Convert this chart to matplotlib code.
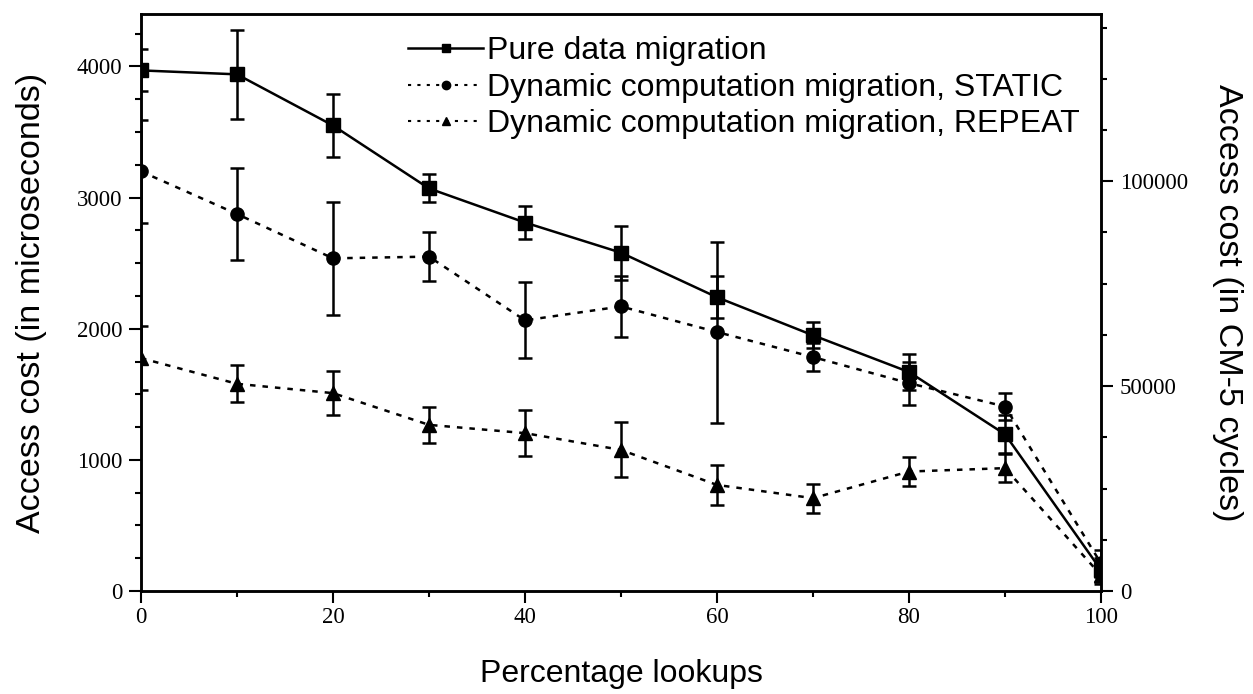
import matplotlib.pyplot as plt
from matplotlib.lines import Line2D
from matplotlib.ticker import MultipleLocator

# Data
lookups = [0, 10, 20, 30, 40, 50, 60, 70, 80, 90, 100]
pure = [3970, 3940, 3550, 3070, 2810, 2580, 2240, 1950, 1670, 1195, 160]
pure_err = [160, 340, 240, 107, 127, 205, 160, 100, 135, 145, 90]
static = [3200, 2875, 2537, 2550, 2064, 2170, 1975, 1784, 1585, 1407, 210]
static_err = [390, 350, 430, 185, 290, 230, 690, 110, 165, 105, 100]
repeat = [1776, 1580, 1509, 1267, 1204, 1076, 809, 708, 911, 937, 120]
repeat_err = [245, 140, 168, 140, 175, 210, 155, 110, 110, 105, 70]
labels = ['Pure data migration',
          'Dynamic computation migration, STATIC',
          'Dynamic computation migration, REPEAT']

cycles_per_us = 32

fig = plt.figure(figsize=(12.53, 6.94), dpi=100)
ax = fig.add_axes([0.1125, 0.1484, 0.7662, 0.8314])

sans = 'Liberation Sans'
serif = 'Liberation Serif'
dots = (0, (2.2, 2.8))

common = dict(color='black', lw=1.8, elinewidth=1.8, capsize=5, capthick=1.8)
ax.errorbar(lookups, pure, yerr=pure_err, marker='s', ms=9.5, ls='-', **common)
ax.errorbar(lookups, static, yerr=static_err, marker='o', ms=9.5, ls=dots, **common)
ax.errorbar(lookups, repeat, yerr=repeat_err, marker='^', ms=9.5, ls=dots, **common)

ax.set_xlim(0, 100)
ax.set_ylim(0, 4400)
ax.xaxis.set_major_locator(MultipleLocator(20))
ax.xaxis.set_minor_locator(MultipleLocator(10))
ax.yaxis.set_major_locator(MultipleLocator(1000))
ax.yaxis.set_minor_locator(MultipleLocator(250))

for s in ax.spines.values():
    s.set_linewidth(1.8)
ax.tick_params(which='major', direction='out', length=8.5, width=1.5)
ax.tick_params(which='minor', direction='out', length=4, width=1.5)
ax.tick_params(axis='x', pad=3)
ax.tick_params(axis='y', pad=5)
for lab in ax.get_xticklabels() + ax.get_yticklabels():
    lab.set_fontfamily(serif)
    lab.set_fontsize(16.5)

ax2 = ax.twinx()
ax2.set_ylim(0, 4400 * cycles_per_us)
ax2.yaxis.set_major_locator(MultipleLocator(50000))
ax2.yaxis.set_minor_locator(MultipleLocator(12500))
ax2.tick_params(which='major', direction='out', length=8.5, width=1.5, pad=5)
ax2.tick_params(which='minor', direction='out', length=4, width=1.5)
for lab in ax2.get_yticklabels():
    lab.set_fontfamily(serif)
    lab.set_fontsize(16.5)
for s in ax2.spines.values():
    s.set_linewidth(1.8)

ax.set_xlabel('Percentage lookups', fontfamily=sans, fontsize=23, labelpad=22)
ax.set_ylabel('Access cost (in microseconds)', fontfamily=sans, fontsize=24.5, labelpad=21)
ax2.set_ylabel('Access cost (in CM-5 cycles)', fontfamily=sans, fontsize=24.5,
               rotation=270, labelpad=40)

handles = [
    Line2D([], [], color='black', lw=1.8, ls='-', marker='s', ms=6),
    Line2D([], [], color='black', lw=1.5, ls=(0, (1.5, 3)), marker='o', ms=6),
    Line2D([], [], color='black', lw=1.5, ls=(0, (1.5, 3)), marker='^', ms=6),
]
ax.legend(handles, labels, loc='upper left', bbox_to_anchor=(0.255, 1.0), frameon=False,
          prop={'family': sans, 'size': 23}, handlelength=2.35, handletextpad=0.12,
          labelspacing=0.2, borderaxespad=0.3)

plt.savefig('out.png', dpi=100)
